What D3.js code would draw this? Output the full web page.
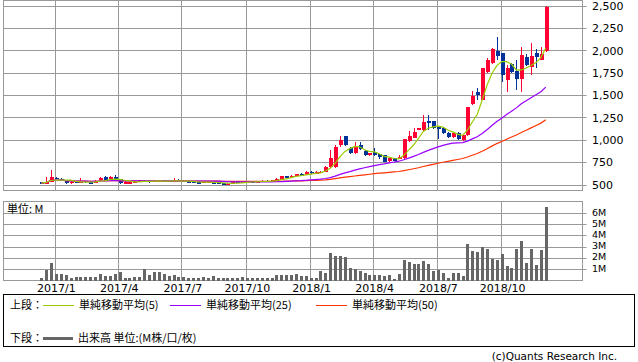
<!DOCTYPE html>
<html>
<head>
<meta charset="utf-8">
<script src="https://cdn.jsdelivr.net/npm/d3@7"></script>
<style>
  body { margin: 0; background: #fff; }
  svg { display: block; }
</style>
</head>
<body>
<svg id="chart" width="638" height="362"></svg>
<script>
// ============================================
// Weekly candlestick + volume chart
// ============================================

// ---- data (weekly, first week starts Monday 2016-12-12) ----
const firstWeek = new Date(2016, 11, 12);

const openP = [530, 515, 537, 580, 568, 545, 520, 535, 522, 545, 530, 528, 552, 588, 565, 592, 565, 520, 520, 530,
    537, 550, 545, 535, 540, 550, 545, 538, 556, 550, 540, 535, 532, 526, 532, 530, 530, 520, 510, 520,
    535, 525, 530, 540, 536, 540, 548, 540, 552, 558, 598, 585, 604, 622, 612, 648, 632, 640, 650, 700,
    705, 946, 1047, 916, 860, 945, 880, 835, 865, 846, 835, 771, 798, 790, 800, 994, 1028, 1125, 1114, 1214,
    1214, 1144, 1139, 1083, 1040, 1085, 1003, 1059, 1400, 1541, 1449, 1765, 1858, 1999, 1970, 1672, 1850, 1776, 1683, 1932,
    1820, 1970, 1902, 1995];
const highP = [535, 585, 667, 592, 575, 550, 540, 540, 580, 550, 540, 560, 592, 605, 598, 612, 570, 540, 535, 545,
    560, 555, 552, 558, 555, 556, 552, 575, 570, 560, 545, 540, 538, 540, 545, 535, 535, 524, 522, 540,
    540, 540, 545, 548, 545, 560, 552, 558, 575, 602, 605, 610, 628, 630, 655, 652, 660, 660, 712, 890,
    945, 1050, 1052, 930, 985, 985, 890, 860, 910, 850, 840, 805, 805, 830, 1015, 1103, 1139, 1140, 1281, 1281,
    1220, 1150, 1145, 1090, 1095, 1095, 1065, 1375, 1545, 1580, 1810, 1915, 2032, 2155, 1975, 1839, 1860, 1895, 2043, 1965,
    2088, 2014, 2043, 2500];
const lowP = [518, 512, 530, 565, 545, 515, 515, 525, 518, 525, 522, 525, 548, 555, 560, 555, 515, 515, 515, 522,
    535, 540, 520, 530, 535, 538, 535, 535, 540, 535, 528, 525, 522, 522, 525, 518, 515, 500, 498, 515,
    522, 520, 525, 532, 528, 535, 535, 536, 548, 555, 585, 580, 598, 600, 608, 628, 628, 630, 640, 690,
    695, 930, 940, 850, 850, 895, 820, 825, 820, 790, 755, 750, 765, 785, 795, 985, 1020, 1115, 1105, 1115,
    1125, 1010, 1075, 1030, 1030, 1000, 995, 1050, 1390, 1450, 1445, 1755, 1850, 1895, 1653, 1541, 1755, 1560, 1541, 1830,
    1728, 1802, 1895, 1985];
const closeP = [522, 537, 593, 572, 548, 520, 535, 527, 550, 528, 526, 540, 580, 560, 592, 560, 520, 533, 530, 536,
    555, 545, 538, 545, 550, 542, 540, 555, 545, 540, 532, 530, 528, 535, 537, 522, 518, 508, 515, 532,
    528, 535, 538, 535, 540, 548, 540, 552, 565, 598, 590, 604, 622, 606, 648, 632, 645, 650, 704, 798,
    927, 1002, 946, 860, 925, 905, 835, 852, 835, 816, 760, 798, 771, 816, 1010, 1050, 1088, 1135, 1207, 1188,
    1133, 1125, 1083, 1039, 1085, 1010, 1058, 1368, 1500, 1504, 1802, 1902, 2018, 1943, 1728, 1802, 1764, 1683, 1951, 1839,
    1940, 1925, 1962, 2490];
// volume, millions
const volumeM = [0.23, 0.92, 1.55, 0.6, 0.54, 0.48, 0.24, 0.27, 0.3, 0.3, 0.3, 0.33, 0.54, 0.42, 0.42, 0.54, 0.75, 0.24, 0.24, 0.33,
    0.33, 1.0, 0.48, 0.72, 0.72, 0.6, 0.42, 0.48, 0.3, 0.3, 0.24, 0.18, 0.18, 0.33, 0.18, 0.39, 0.18, 0.18, 0.24, 0.24,
    0.18, 0.3, 0.24, 0.24, 0.18, 0.24, 0.18, 0.24, 0.48, 0.48, 0.48, 0.48, 0.57, 0.42, 0.42, 0.24, 0.24, 0.84, 0.66, 2.46,
    2.19, 2.19, 2.1, 1.1, 0.99, 0.81, 0.66, 0.48, 0.48, 0.48, 0.39, 0.48, 0.12, 0.54, 1.83, 1.65, 1.47, 1.47, 1.74, 1.47,
    0.84, 0.93, 0.66, 0.21, 0.66, 0.66, 0.39, 3.26, 2.63, 2.54, 3.02, 2.81, 1.92, 1.83, 2.37, 1.29, 1.1, 2.81, 3.53, 1.56,
    2.81, 1.38, 2.72, 6.59];

const priceTicks = [500, 750, 1000, 1250, 1500, 1750, 2000, 2250, 2500];
const volumeTicks = [1, 2, 3, 4, 5, 6];
const xTickDates = ['2017-01-01', '2017-04-01', '2017-07-01', '2017-10-01', '2018-01-01', '2018-04-01', '2018-07-01', '2018-10-01'];
const xTickLabels = ['2017/1', '2017/4', '2017/7', '2017/10', '2018/1', '2018/4', '2018/7', '2018/10'];
const maPeriods = [5, 25, 50];
const maLabels = ['単純移動平均(5)', '単純移動平均(25)', '単純移動平均(50)'];

// ---- colours ----
const COLORS = {
    up: '#ff0033',
    down: '#003399',
    grid: '#999999',
    vol: '#666666',
    ink: '#000000',
    ma: ['#99cc00', '#9900ff', '#ff3300'],
};

const AXIS_FONT = 'DejaVu Sans, sans-serif';
const JP_FONT = '"Noto Sans CJK JP", sans-serif';

const svg = d3.select('#chart');

const weeks = d3.timeMonday.range(firstWeek, d3.timeDay.offset(firstWeek, closeP.length * 7));
const parse = d3.timeParse('%Y-%m-%d');
const tickDates = xTickDates.map(parse);

// panels
const left = 3.5, right = 582.5;
const priceTop = 0.5, priceBottom = 190.5;
const volTop = 201.5, volBottom = 280.5;

const x = d3.scaleTime().domain([tickDates[0], tickDates[tickDates.length - 1]]).range([55.3, 501.7]);
const y = d3.scaleLinear().domain([500, 2500]).range([185, 6]);
const yv = d3.scaleLinear().domain([0, 6]).range([280.5, 213.5]);

const snap = (v) => Math.floor(v) + 0.5;

// ============================================
// grid + frames
// ============================================
function drawGrid(top, bottom, yTicks, yScale) {
    const g = svg.append('g').attr('stroke', COLORS.grid).attr('stroke-width', 1).attr('fill', 'none');
    g.selectAll('.v').data(tickDates).enter().append('line')
        .attr('x1', (d) => snap(x(d))).attr('x2', (d) => snap(x(d)))
        .attr('y1', top).attr('y2', bottom);
    g.selectAll('.h').data(yTicks).enter().append('line')
        .attr('x1', left).attr('x2', right + 4)
        .attr('y1', (d) => snap(yScale(d))).attr('y2', (d) => snap(yScale(d)));
    g.append('rect').attr('x', left).attr('y', top).attr('width', right - left).attr('height', bottom - top);
}

drawGrid(priceTop, priceBottom, priceTicks, y);
drawGrid(volTop, volBottom, volumeTicks, yv);

// ============================================
// candles
// ============================================
const candles = weeks.map((d, i) => ({
    date: d, open: openP[i], high: highP[i], low: lowP[i], close: closeP[i], volume: volumeM[i],
}));

const cg = svg.append('g').attr('shape-rendering', 'crispEdges');
cg.selectAll('.wick').data(candles).enter().append('line')
    .attr('x1', (d) => Math.round(x(d.date)) + 0.5)
    .attr('x2', (d) => Math.round(x(d.date)) + 0.5)
    .attr('y1', (d) => y(d.high))
    .attr('y2', (d) => y(d.low))
    .attr('stroke', (d) => (d.close >= d.open ? COLORS.up : COLORS.down))
    .attr('stroke-width', 1);
cg.selectAll('.body').data(candles).enter().append('rect')
    .attr('x', (d) => Math.round(x(d.date)) - 1.5)
    .attr('width', 4)
    .attr('y', (d) => y(Math.max(d.open, d.close)))
    .attr('height', (d) => Math.max(1.5, Math.abs(y(d.open) - y(d.close))))
    .attr('fill', (d) => (d.close >= d.open ? COLORS.up : COLORS.down));

// ============================================
// moving averages of weekly closes
// ============================================
function movingAverage(values, n) {
    return values.map((_, i) => d3.mean(values.slice(Math.max(0, i - n + 1), i + 1)));
}

const line = d3.line().x((d) => x(d[0])).y((d) => y(d[1]));
maPeriods.slice().reverse().forEach((n) => {
    const k = maPeriods.indexOf(n);
    const ma = movingAverage(closeP, n);
    svg.append('path')
        .datum(weeks.map((d, i) => [d, ma[i]]))
        .attr('fill', 'none')
        .attr('stroke', COLORS.ma[k])
        .attr('stroke-width', 1.2)
        .attr('d', line);
});

// ============================================
// volume bars
// ============================================
svg.append('g').attr('shape-rendering', 'crispEdges')
    .selectAll('rect').data(candles).enter().append('rect')
    .attr('x', (d) => Math.round(x(d.date)) - 1)
    .attr('width', 3.4)
    .attr('y', (d) => yv(d.volume))
    .attr('height', (d) => yv(0) - yv(d.volume))
    .attr('fill', COLORS.vol);

// ============================================
// axis labels
// ============================================
const fmt = d3.format(',');
svg.append('g').selectAll('text').data(priceTicks).enter().append('text')
    .attr('x', 592).attr('y', (d) => y(d)).attr('dy', '0.35em')
    .attr('font-family', AXIS_FONT).attr('font-size', 11).attr('fill', COLORS.ink)
    .text((d) => fmt(d));

svg.append('g').selectAll('text').data(volumeTicks).enter().append('text')
    .attr('x', 592).attr('y', (d) => yv(d) - 1).attr('dy', '0.35em')
    .attr('font-family', AXIS_FONT).attr('font-size', 9.5).attr('fill', COLORS.ink)
    .text((d) => `${d}M`);

svg.append('g').selectAll('text').data(tickDates).enter().append('text')
    .attr('x', (d) => x(d) + 1).attr('y', 292)
    .attr('text-anchor', 'middle')
    .attr('font-family', AXIS_FONT).attr('font-size', 11).attr('fill', COLORS.ink)
    .text((d, i) => xTickLabels[i]);

svg.append('text')
    .attr('x', 7).attr('y', 213)
    .attr('font-family', JP_FONT).attr('font-size', 11).attr('fill', COLORS.ink)
    .text('単位: M');

// ============================================
// legend
// ============================================
const lg = svg.append('g').attr('font-family', JP_FONT).attr('font-size', 11).attr('fill', COLORS.ink);
lg.append('rect').attr('x', 3.5).attr('y', 294.5).attr('width', 631).attr('height', 52)
    .attr('fill', 'none').attr('stroke', COLORS.ink).attr('stroke-width', 1);

const row1 = 305, row2 = 338;
lg.append('text').attr('x', 10).attr('y', row1).attr('dy', '0.35em').text('上段：');
const itemX = [43, 170, 316];
maLabels.forEach((label, k) => {
    lg.append('line')
        .attr('x1', itemX[k]).attr('x2', itemX[k] + 31)
        .attr('y1', row1 + 0.5).attr('y2', row1 + 0.5)
        .attr('stroke', COLORS.ma[k]).attr('stroke-width', 1);
    lg.append('text').attr('x', itemX[k] + 36).attr('y', row1).attr('dy', '0.35em').text(label);
});

lg.append('text').attr('x', 10).attr('y', row2).attr('dy', '0.35em').text('下段：');
lg.append('line').attr('x1', 43).attr('x2', 73).attr('y1', row2 + 0.5).attr('y2', row2 + 0.5)
    .attr('stroke', COLORS.vol).attr('stroke-width', 3);
lg.append('text').attr('x', 78).attr('y', row2).attr('dy', '0.35em').text('出来高 単位:(M株/口/枚)');

svg.append('text')
    .attr('x', 617).attr('y', 356).attr('dy', '0.35em')
    .attr('text-anchor', 'end')
    .attr('font-family', AXIS_FONT).attr('font-size', 10.5).attr('fill', COLORS.ink)
    .text('(c)Quants Research Inc.');
</script>
</body>
</html>
